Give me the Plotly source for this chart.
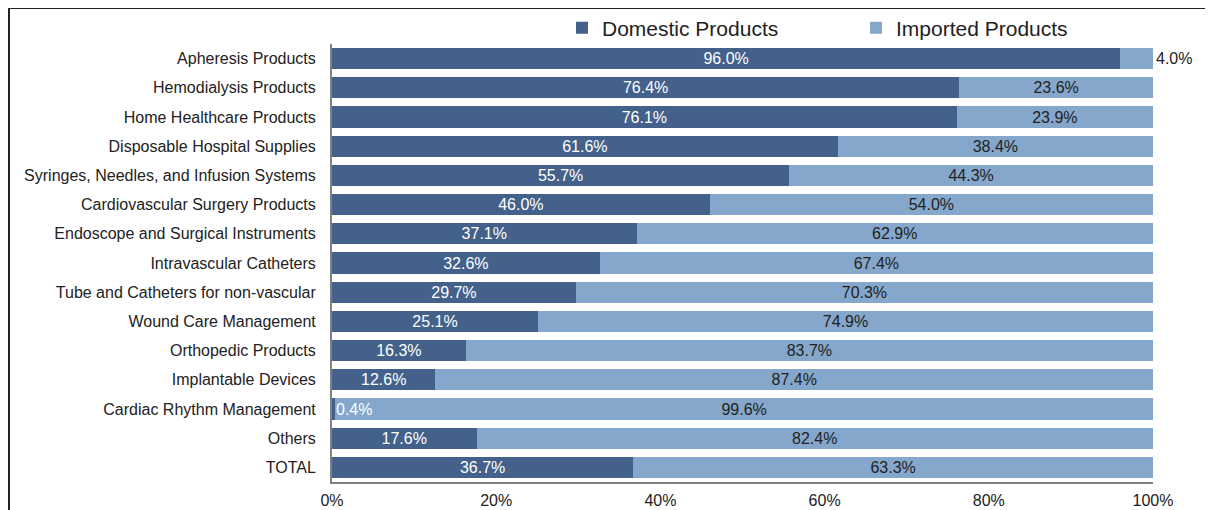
import plotly.graph_objects as go

categories = [
    "Apheresis Products",
    "Hemodialysis Products",
    "Home Healthcare Products",
    "Disposable Hospital Supplies",
    "Syringes, Needles, and Infusion Systems",
    "Cardiovascular Surgery Products",
    "Endoscope and Surgical Instruments",
    "Intravascular Catheters",
    "Tube and Catheters for non-vascular",
    "Wound Care Management",
    "Orthopedic Products",
    "Implantable Devices",
    "Cardiac Rhythm Management",
    "Others",
    "TOTAL",
]
domestic = [96.0, 76.4, 76.1, 61.6, 55.7, 46.0, 37.1, 32.6, 29.7, 25.1, 16.3, 12.6, 0.4, 17.6, 36.7]
imported = [4.0, 23.6, 23.9, 38.4, 44.3, 54.0, 62.9, 67.4, 70.3, 74.9, 83.7, 87.4, 99.6, 82.4, 63.3]
x_ticks = [0, 20, 40, 60, 80, 100]

DARK = "#43618a"
LIGHT = "#84a7cb"
FONT = "Liberation Sans, Arial, sans-serif"

fig = go.Figure()

# domestic share, tiny values get their label via annotation instead
fig.add_trace(go.Bar(
    y=categories, x=domestic, orientation="h", name="Domestic Products",
    marker=dict(color=DARK, line=dict(width=0)),
    text=[f"{v:.1f}%" if v >= 3 else "" for v in domestic],
    textposition="inside", insidetextanchor="middle",
    textfont=dict(color="white", size=16, family=FONT),
    hoverinfo="skip", legend="legend",
))
# imported share, small values go outside
fig.add_trace(go.Bar(
    y=categories, x=imported, orientation="h", name="Imported Products",
    marker=dict(color=LIGHT, line=dict(width=0)),
    text=[f"{v:.1f}%" for v in imported],
    textposition=["outside" if v < 6 else "inside" for v in imported],
    insidetextanchor="middle", cliponaxis=False,
    textfont=dict(color="#222222", size=16, family=FONT),
    outsidetextfont=dict(color="#222222", size=16, family=FONT),
    hoverinfo="skip", legend="legend2",
))

for cat, v in zip(categories, domestic):
    if v < 3:
        fig.add_annotation(x=v, y=cat, text=f"{v:.1f}%", showarrow=False,
                           xanchor="left", xshift=-1,
                           font=dict(color="white", size=16, family=FONT))

# page has an 8px body margin, so the figure is a bit smaller than the window
W, H = 1205, 502
PL, PW, PT, PH = 324, 821, 36, 438
SCREEN_L, SCREEN_T = PL + 8, PT + 8


def px(x):
    return (x - SCREEN_L) / PW


def py(y):
    return (SCREEN_T + PH - y) / PH


# outer frame lines (left and top)
fig.add_shape(type="line", xref="paper", yref="paper",
              x0=px(9), x1=px(9), y0=py(520), y1=py(8),
              line=dict(color="#222222", width=2))
fig.add_shape(type="line", xref="paper", yref="paper",
              x0=px(9), x1=px(1220), y0=py(8), y1=py(8),
              line=dict(color="#222222", width=2))

leg_common = dict(orientation="h", yanchor="middle", y=py(28), xanchor="left",
                  font=dict(size=21, family=FONT, color="#222222"),
                  itemclick=False, bgcolor="rgba(0,0,0,0)", itemwidth=30)

fig.update_layout(
    barmode="stack", bargap=0.28,
    width=W, height=H,
    margin=dict(l=PL, r=W - PL - PW, t=PT, b=H - PT - PH, autoexpand=False),
    paper_bgcolor="white", plot_bgcolor="white",
    font=dict(family=FONT, color="#222222", size=16),
    uniformtext=dict(minsize=16, mode="show"),
    showlegend=True,
    legend=dict(x=px(562), **leg_common),
    legend2=dict(x=px(856), **leg_common),
)

fig.update_xaxes(
    range=[0, 100], tickvals=x_ticks, ticktext=[f"{t}%" for t in x_ticks],
    showgrid=False, zeroline=False, showline=True, linecolor="#808080", linewidth=2,
    ticks="", tickfont=dict(size=16, color="#222222"), ticklabelstandoff=3,
    automargin=False,
)
fig.update_yaxes(
    autorange="reversed", showgrid=False, zeroline=False,
    showline=True, linecolor="#808080", linewidth=2,
    ticks="", tickfont=dict(size=16, color="#222222"), ticklabelstandoff=11,
    automargin=False,
)

fig.write_html("out.html")
